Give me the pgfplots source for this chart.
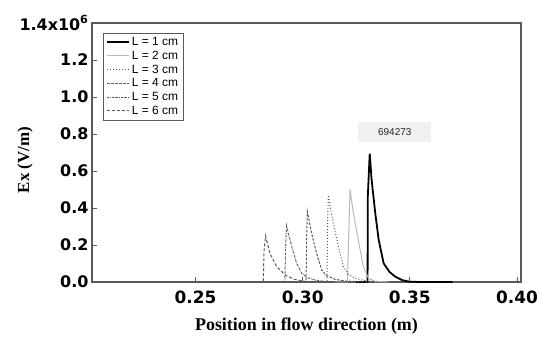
\documentclass[border=0pt]{standalone}
\usepackage{fontspec}
\setmainfont{Liberation Serif}
\newfontfamily\dv{DejaVu Sans}
\newfontfamily\lib{Liberation Sans}
\usepackage{pgfplots}
\pgfplotsset{compat=1.18}
\definecolor{axgray}{gray}{0.35}
\begin{document}
\begin{tikzpicture}
\begin{axis}[
  scale only axis, width=429bp, height=259bp,
  xmin=0.2017, xmax=0.4019, ymin=0, ymax=1400000,
  axis line style={draw=axgray, line width=1.2pt},
  tick align=inside, xtick pos=bottom, ytick pos=left,
  major tick length=5bp, tick style={axgray, line width=0.8pt},
  xtick={0.25,0.30,0.35,0.40}, xticklabels={0.25,0.30,0.35,0.40},
  ytick={0,200000,400000,600000,800000,1000000,1200000,1400000},
  yticklabels={0.0,0.2,0.4,0.6,0.8,1.0,1.2,{1.4x10\textsuperscript{6}}},
  scaled y ticks=false, scaled x ticks=false,
  xticklabel style={font=\dv\bfseries\fontsize{17}{17}\selectfont, yshift=-5bp},
  yticklabel style={font=\dv\bfseries\fontsize{16}{16}\selectfont},
  xlabel={\textbf{Position in flow direction (m)}},
  xlabel style={font=\fontsize{18}{18}\selectfont, at={(axis description cs:0.5,-0.17)}, anchor=center},
  ylabel={Ex (V/m)},
  ylabel style={font=\bfseries\fontsize{17}{17}\selectfont, at={(axis description cs:-0.156,0.471)}, anchor=center},
  legend style={at={(0,1)}, anchor=north west, xshift=11bp, yshift=-10bp,
    font=\lib\fontsize{12}{14.5}\selectfont, draw=axgray},
  legend cell align=left,
  legend image code/.code={\draw[#1] (0bp,0bp) -- (22bp,0bp);},
]
\addplot[black, line width=1.8pt] coordinates {
 (0.3250,0) (0.3303,0) (0.3304,460000) (0.3313,694273) (0.3322,551000)
 (0.3339,371000) (0.3355,227000) (0.3378,101000) (0.3405,55000)
 (0.3432,29000) (0.3465,10000) (0.3495,2000) (0.3550,0) (0.3700,0)};
\addlegendentry{L = 1 cm}
\addplot[gray!55, line width=1pt] coordinates {
 (0.3150,0) (0.3209,0) (0.3215,250000) (0.3221,501000) (0.3237,371000)
 (0.3260,227000) (0.3283,83000) (0.3307,20000) (0.3340,3000) (0.3400,0)};
\addlegendentry{L = 2 cm}
\addplot[gray!70!black, line width=1pt, dotted] coordinates {
 (0.3050,0) (0.3114,0) (0.3116,300000) (0.3120,470000) (0.3143,317000)
 (0.3167,191000) (0.3190,83000) (0.3215,40000) (0.3244,20000) (0.3300,5000) (0.3350,0)};
\addlegendentry{L = 3 cm}
\addplot[gray!70!black, line width=1pt, dash pattern=on 2.5pt off 1.5pt] coordinates {
 (0.2950,0) (0.3016,0) (0.3019,250000) (0.3022,380000) (0.3042,263000)
 (0.3065,155000) (0.3089,65000) (0.3110,35000) (0.3150,15000) (0.3200,5000) (0.3300,0)};
\addlegendentry{L = 4 cm}
\addplot[gray!70!black, line width=1pt, dash pattern=on 2pt off 1pt on 0.6pt off 1pt] coordinates {
 (0.2850,0) (0.2917,0) (0.2921,200000) (0.2925,303000) (0.2949,191000)
 (0.2972,101000) (0.2995,47000) (0.3020,25000) (0.3060,10000) (0.3120,0)};
\addlegendentry{L = 5 cm}
\addplot[gray!70!black, line width=1pt, dash pattern=on 3pt off 2pt] coordinates {
 (0.2750,0) (0.2816,0) (0.2820,170000) (0.2827,249000) (0.2847,155000)
 (0.2879,83000) (0.2918,38000) (0.2960,15000) (0.3000,5000) (0.3050,0)};
\addlegendentry{L = 6 cm}
\node[fill=gray!12, minimum width=73bp, minimum height=20bp, inner sep=0pt,
  font=\lib\fontsize{10}{10}\selectfont, text=gray!30!black] at (axis cs:0.343,811000) {694273};
\end{axis}
\pgfresetboundingbox
\path[use as bounding box] ([shift={(-92bp,-55bp)}]current axis.south west) rectangle ([shift={(449bp,282bp)}]current axis.south west);
\end{tikzpicture}
\end{document}
